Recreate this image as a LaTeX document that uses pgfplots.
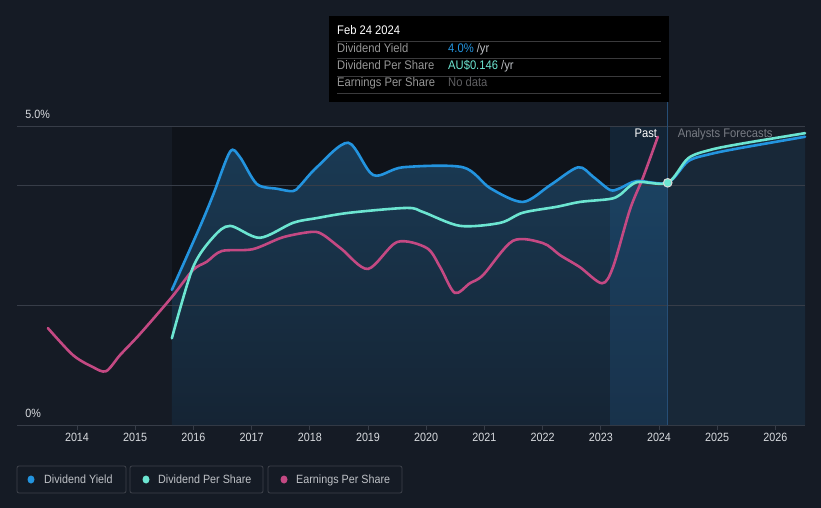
\documentclass[border=0pt]{standalone}
\usepackage{pgfplots}
\pgfplotsset{compat=1.18}
\usepackage{fontspec}
\setmainfont{Liberation Sans}
\newfontfamily\narrow[FakeStretch=0.9]{Liberation Sans}
\definecolor{bg}{RGB}{21,27,37}
\definecolor{pastdark}{RGB}{15,19,26}
\definecolor{bandc}{RGB}{40,115,180}
\definecolor{fcst}{RGB}{23,29,39}
\definecolor{fcstfill}{RGB}{24,40,56}
\definecolor{filltop}{RGB}{26,58,84}
\definecolor{fillbot}{RGB}{21,36,52}
\definecolor{dyc}{RGB}{35,148,223}
\definecolor{dpsc}{RGB}{108,229,209}
\definecolor{epsc}{RGB}{196,73,131}
\definecolor{gridc}{RGB}{55,61,72}
\definecolor{txt}{RGB}{215,218,222}
\definecolor{ltxt}{RGB}{190,193,198}
\definecolor{vline}{RGB}{38,78,118}
\definecolor{fctxt}{RGB}{120,124,132}
\definecolor{sepc}{RGB}{58,58,60}
\definecolor{ttgray}{RGB}{150,150,150}
\definecolor{nodata}{RGB}{95,95,98}
\definecolor{legbox}{RGB}{62,66,75}

\begin{document}
\begin{tikzpicture}
\fill[bg] (-17bp,-83bp) rectangle (804bp,425bp);
\begin{axis}[
  scale only axis, width=788bp, height=299bp,
  xmin=2012.969, xmax=2026.509, ymin=0, ymax=5,
  clip=false,
  axis y line=none, axis x line*=bottom,
  x axis line style={draw=gridc, line width=1bp, -},
  xtick={2014,2015,2016,2017,2018,2019,2020,2021,2022,2023,2024,2025,2026},
  xticklabels={2014,2015,2016,2017,2018,2019,2020,2021,2022,2023,2024,2025,2026},
  tick align=outside, major tick length=5bp,
  xtick style={draw=gridc, line width=0.8bp},
  xticklabel style={font=\narrow\fontsize{12}{13}\selectfont, text=txt},
]
% background regions
\addplot[draw=none, fill=pastdark] coordinates {(2015.63,0) (2015.63,5) (2024.15,5) (2024.15,0)} -- cycle;
\addplot[draw=none, fill=fcst] coordinates {(2024.15,0) (2024.15,5) (2026.51,5) (2026.51,0)} -- cycle;

% area under dividend yield (past)
\addplot[draw=none, smooth, top color=filltop, bottom color=fillbot] coordinates {
(2015.63,2.26) (2016.11,3.31) (2016.34,3.85) (2016.63,4.57) (2016.80,4.48) (2017.09,4.03) (2017.44,3.95) (2017.71,3.91) (2017.83,4.00) (2018.12,4.31) (2018.66,4.72) (2019.09,4.18) (2019.60,4.31) (2020.63,4.31) (2021.10,3.96) (2021.66,3.73) (2022.13,4.01) (2022.61,4.31) (2022.87,4.15) (2023.16,3.93) (2023.33,3.96) (2023.62,4.08) (2024.15,4.05)
} \closedcycle;

% area under forecast
\addplot[draw=none, smooth, fill=fcstfill] coordinates {
(2024.15,4.05) (2024.50,4.46) (2024.88,4.60) (2025.39,4.70) (2026.51,4.88)
} \closedcycle;

% highlighted last year band
\addplot[draw=none, fill=bandc, fill opacity=0.18] coordinates {(2023.16,0) (2023.16,5) (2024.15,5) (2024.15,0)} -- cycle;

% grid lines
\draw[gridc, line width=0.8bp] (axis cs:2012.969,5) -- (axis cs:2026.509,5);
\draw[gridc, line width=0.8bp] (axis cs:2012.969,4) -- (axis cs:2026.509,4);
\draw[gridc, line width=0.8bp] (axis cs:2012.969,2) -- (axis cs:2026.509,2);

% vertical marker line
\draw[vline, line width=0.8bp] (axis cs:2024.15,0) -- (axis cs:2024.15,5.40);

% earnings per share
\addplot[epsc, line width=2.6bp, smooth, line cap=round] coordinates {
(2013.50,1.62) (2013.93,1.17) (2014.27,0.97) (2014.50,0.90) (2014.74,1.17) (2015.08,1.52) (2015.63,2.14) (2015.99,2.59) (2016.23,2.73) (2016.49,2.91) (2017.02,2.94) (2017.54,3.14) (2018.04,3.23) (2018.23,3.18) (2018.55,2.94) (2019.00,2.61) (2019.50,3.06) (2020.01,2.96) (2020.24,2.64) (2020.49,2.21) (2020.75,2.37) (2020.98,2.51) (2021.49,3.08) (2022.01,3.04) (2022.30,2.84) (2022.64,2.64) (2023.02,2.37) (2023.21,2.64) (2023.50,3.60) (2023.73,4.15) (2023.98,4.82)
};

% dividend yield
\addplot[dyc, line width=2.6bp, smooth, line cap=round] coordinates {
(2015.63,2.26) (2016.11,3.31) (2016.34,3.85) (2016.63,4.57) (2016.80,4.48) (2017.09,4.03) (2017.44,3.95) (2017.71,3.91) (2017.83,4.00) (2018.12,4.31) (2018.66,4.72) (2019.09,4.18) (2019.60,4.31) (2020.63,4.31) (2021.10,3.96) (2021.66,3.73) (2022.13,4.01) (2022.61,4.31) (2022.87,4.15) (2023.16,3.93) (2023.33,3.96) (2023.62,4.08) (2024.15,4.05) (2024.50,4.41) (2024.88,4.53) (2025.39,4.63) (2026.51,4.82)
};

% dividend per share
\addplot[dpsc, line width=2.6bp, smooth, line cap=round] coordinates {
(2015.63,1.45) (2015.99,2.63) (2016.34,3.14) (2016.63,3.33) (2017.14,3.13) (2017.71,3.38) (2018.12,3.46) (2018.69,3.55) (2019.67,3.63) (2019.95,3.56) (2020.58,3.33) (2021.27,3.38) (2021.66,3.55) (2022.25,3.65) (2022.64,3.73) (2023.16,3.78) (2023.33,3.85) (2023.62,4.06) (2024.15,4.05) (2024.50,4.46) (2024.88,4.60) (2025.39,4.70) (2026.51,4.88)
};

\addplot[only marks, mark=*, mark size=4.3bp, draw=white!85!black, fill=dpsc, line width=1bp] coordinates {(2024.15,4.05)};

% labels inside the chart
\node[anchor=base east, inner sep=0pt, text=white, font=\narrow\fontsize{12.5}{14}\selectfont] at (axis cs:2023.97,4.80) {Past};
\node[anchor=base west, inner sep=0pt, text=fctxt, font=\narrow\fontsize{12.5}{14}\selectfont] at (axis cs:2024.32,4.80) {Analysts Forecasts};
\node[anchor=base west, text=txt, font=\narrow\fontsize{12}{13}\selectfont, inner sep=0pt] at (axis cs:2013.11,5.12) {5.0\%};
\node[anchor=base west, text=txt, font=\narrow\fontsize{12}{13}\selectfont, inner sep=0pt] at (axis cs:2013.11,0.12) {0\%};
\end{axis}

% tooltip
\begin{scope}[every node/.style={anchor=base west, inner sep=0pt, font=\narrow\fontsize{12.5}{14}\selectfont}]
\fill[black] (312bp,323bp) rectangle (652bp,409bp);
\node[text=white] at (320bp,390bp) {Feb 24 2024};
\foreach \yy in {384,367,349,332} {\draw[sepc, line width=0.8bp] (320bp,\yy bp) -- (644bp,\yy bp);}
\node[text=ttgray] at (320bp,372.5bp) {Dividend Yield};
\node[text=ttgray] at (320bp,355bp) {Dividend Per Share};
\node[text=ttgray] at (320bp,338bp) {Earnings Per Share};
\node at (431bp,372.5bp) {\textcolor{dyc}{4.0\%}\textcolor{ltxt}{\ /yr}};
\node at (431bp,355bp) {\textcolor{dpsc}{AU\$0.146}\textcolor{ltxt}{\ /yr}};
\node[text=nodata] at (431bp,338bp) {No data};
\end{scope}

% legend
\begin{scope}[every node/.style={anchor=base west, inner sep=0pt, text=ltxt, font=\narrow\fontsize{12}{14}\selectfont}]
\draw[legbox, line width=0.8bp, rounded corners=2bp] (0bp,-68bp) rectangle (109bp,-41bp);
\draw[legbox, line width=0.8bp, rounded corners=2bp] (113bp,-68bp) rectangle (246bp,-41bp);
\draw[legbox, line width=0.8bp, rounded corners=2bp] (251bp,-68bp) rectangle (385bp,-41bp);
\fill[dyc] (14bp,-54.5bp) ellipse (3.5bp and 4bp);
\fill[dpsc] (129bp,-54.5bp) ellipse (3.5bp and 4bp);
\fill[epsc] (267bp,-54.5bp) ellipse (3.5bp and 4bp);
\node at (27bp,-58.8bp) {Dividend Yield};
\node at (141bp,-58.8bp) {Dividend Per Share};
\node at (279bp,-58.8bp) {Earnings Per Share};
\end{scope}
\end{tikzpicture}
\end{document}
